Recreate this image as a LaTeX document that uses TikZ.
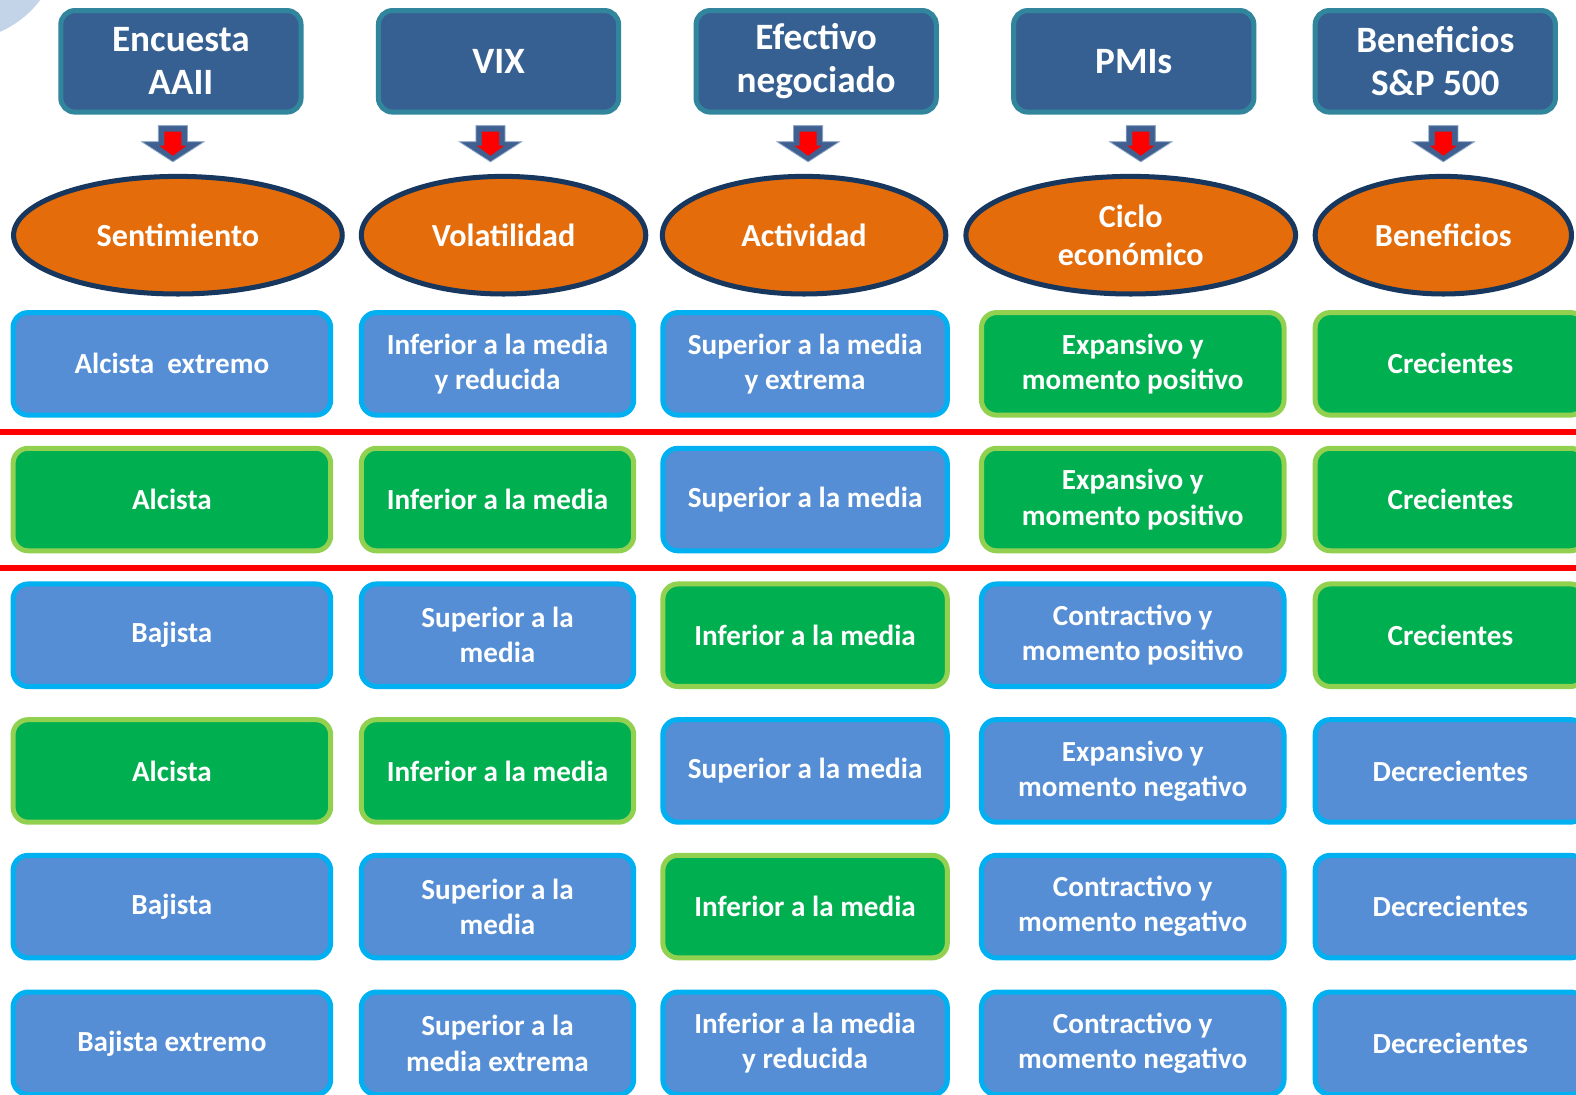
\documentclass[tikz,border=0pt]{standalone}
\usepackage{fontspec}
\setmainfont{Carlito}
\usetikzlibrary{shapes.geometric}
\definecolor{hdrfill}{HTML}{376092}
\definecolor{hdrline}{HTML}{31859C}
\definecolor{ellfill}{HTML}{E46C0A}
\definecolor{ellline}{HTML}{17375E}
\definecolor{blufill}{HTML}{558ED5}
\definecolor{bluline}{HTML}{00B0F0}
\definecolor{grnfill}{HTML}{00B050}
\definecolor{grnline}{HTML}{92D050}
\definecolor{arrblue}{HTML}{3F6090}
\definecolor{arredge}{HTML}{8FA8C8}
\definecolor{deco}{HTML}{C3D3E8}
\definecolor{decolight}{HTML}{DCE6F2}
\begin{document}
\begin{tikzpicture}[x=1pt,y=-1pt,
  txt/.style={text=white,align=center,inner sep=0pt,font=\fontsize{29}{35}\selectfont\bfseries},
  hdr/.style={txt,font=\fontsize{37}{43}\selectfont\bfseries,draw=hdrline,fill=hdrfill,line width=5pt,
    rounded corners=14pt,minimum width=239pt,minimum height=101pt},
  ell/.style={txt,font=\fontsize{32}{38}\selectfont\bfseries,ellipse,draw=ellline,fill=ellfill,line width=5pt,
    minimum height=117pt},
  cell/.style={txt,line width=5pt,rounded corners=15pt,minimum height=102pt},
  blu/.style={cell,draw=bluline,fill=blufill},
  grn/.style={cell,draw=grnline,fill=grnfill},
  cA/.style={minimum width=316pt},
  cB/.style={minimum width=271pt},
  cC/.style={minimum width=283pt},
  cD/.style={minimum width=301pt},
  cE/.style={minimum width=269pt},
  sep/.style={draw=red,line width=6pt},
  barrow/.pic={
    \fill[arrblue,draw=arredge,line width=0.8pt] (-14.5,0) -- (14.5,0) -- (14.5,16) -- (31,16) -- (0,36) -- (-31,16) -- (-14.5,16) -- cycle;
    \fill[red] (-8.5,6) -- (8.5,6) -- (8.5,20) -- (13.5,20) -- (0,30) -- (-13.5,20) -- (-8.5,20) -- cycle;
  }]
\useasboundingbox (0,0) rectangle (1568,1089);
\begin{scope}
\clip (0,0) rectangle (1568,1089);
\fill[white] (0,0) rectangle (1568,1089);
% decoration top-left
\fill[deco] (-40,-60) circle (100);
\draw[decolight,line width=5pt] (-40,-60) ++(-10:80) arc (-10:-90:-80);
% headers
\node[hdr] (h1) at (180,61) {Encuesta\\AAII};
\node[hdr] (h2) at (496,61) {VIX};
\node[hdr] (h3) at (812,61) {Efectivo\\negociado};
\node[hdr] (h4) at (1128,61) {PMIs};
\node[hdr] (h5) at (1428,61) {Beneficios\\S\&P 500};
% ellipses
\node[ell,minimum width=327pt] (e1) at (177,234) {Sentimiento};
\node[ell,minimum width=283pt] (e2) at (501,234) {Volatilidad};
\node[ell,minimum width=282pt] (e3) at (800,234) {Actividad};
\node[ell,minimum width=328pt] (e4) at (1125,234) {Ciclo\\económico};
\node[ell,minimum width=255pt] (e5) at (1436,234) {Beneficios};
% arrows
\coordinate (a1) at (172,125); \coordinate (a2) at (488,125); \coordinate (a3) at (804,125);
\coordinate (a4) at (1135,125); \coordinate (a5) at (1436,125);
\foreach \a in {a1,a2,a3,a4,a5} \pic at (\a) {barrow};
% separators
\draw[sep] (0,430) -- (1568,430);
\draw[sep] (0,565) -- (1568,565);
% row 1
\node[blu,cA] (r1c1) at (171,362) {Alcista\ \ extremo};
\node[blu,cB] (r1c2) at (495,362) {Inferior a la media\\y reducida};
\node[blu,cC] (r1c3) at (801,362) {Superior a la media\\y extrema};
\node[grn,cD] (r1c4) at (1127,362) {Expansivo y\\momento positivo};
\node[grn,cE] (r1c5) at (1443,362) {Crecientes};
% row 2
\node[grn,cA] (r2c1) at (171,497) {Alcista};
\node[grn,cB] (r2c2) at (495,497) {Inferior a la media};
\node[blu,cC] (r2c3) at (801,497) {Superior a la media};
\node[grn,cD] (r2c4) at (1127,497) {Expansivo y\\momento positivo};
\node[grn,cE] (r2c5) at (1443,497) {Crecientes};
% row 3
\node[blu,cA] (r3c1) at (171,632) {Bajista};
\node[blu,cB] (r3c2) at (495,632) {Superior a la\\media};
\node[grn,cC] (r3c3) at (801,632) {Inferior a la media};
\node[blu,cD] (r3c4) at (1127,632) {Contractivo y\\momento positivo};
\node[grn,cE] (r3c5) at (1443,632) {Crecientes};
% row 4
\node[grn,cA] (r4c1) at (171,767) {Alcista};
\node[grn,cB] (r4c2) at (495,767) {Inferior a la media};
\node[blu,cC] (r4c3) at (801,767) {Superior a la media};
\node[blu,cD] (r4c4) at (1127,767) {Expansivo y\\momento negativo};
\node[blu,cE] (r4c5) at (1443,767) {Decrecientes};
% row 5
\node[blu,cA] (r5c1) at (171,902) {Bajista};
\node[blu,cB] (r5c2) at (495,902) {Superior a la\\media};
\node[grn,cC] (r5c3) at (801,902) {Inferior a la media};
\node[blu,cD] (r5c4) at (1127,902) {Contractivo y\\momento negativo};
\node[blu,cE] (r5c5) at (1443,902) {Decrecientes};
% row 6
\node[blu,cA] (r6c1) at (171,1038) {Bajista extremo};
\node[blu,cB] (r6c2) at (495,1038) {Superior a la\\media extrema};
\node[blu,cC] (r6c3) at (801,1038) {Inferior a la media\\y reducida};
\node[blu,cD] (r6c4) at (1127,1038) {Contractivo y\\momento negativo};
\node[blu,cE] (r6c5) at (1443,1038) {Decrecientes};
\end{scope}
\end{tikzpicture}
\end{document}
